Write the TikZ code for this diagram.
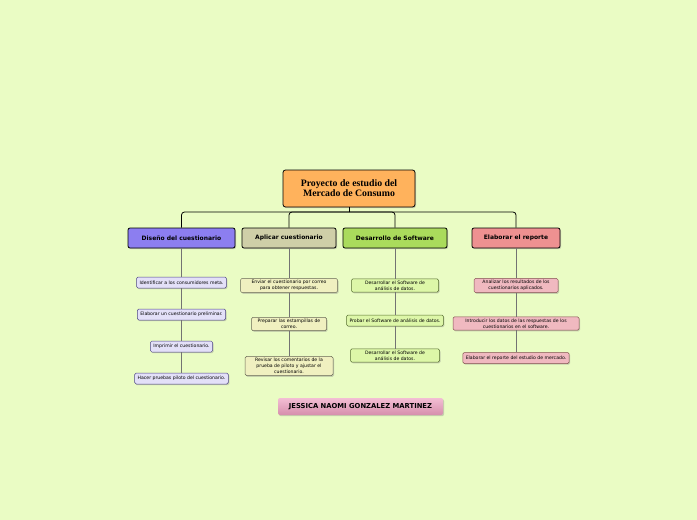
\documentclass[tikz,border=0pt]{standalone}
\usepackage{fontspec}
\setmainfont{DejaVu Sans}
\newfontfamily\titlefont{Liberation Serif}
\usetikzlibrary{shadows}
\definecolor{bgc}{RGB}{234,252,196}
\definecolor{rootc}{RGB}{255,178,92}
\definecolor{disc}{RGB}{140,126,240}
\definecolor{aplc}{RGB}{207,207,168}
\definecolor{desc}{RGB}{170,219,92}
\definecolor{elac}{RGB}{238,145,145}
\definecolor{disl}{RGB}{227,224,248}
\definecolor{apll}{RGB}{240,240,192}
\definecolor{desl}{RGB}{221,247,168}
\definecolor{elal}{RGB}{240,185,192}
\definecolor{namet}{RGB}{243,190,212}
\definecolor{nameb}{RGB}{214,142,172}
\begin{document}
\begin{tikzpicture}[x=1pt,y=-1pt,
  shd/.style={drop shadow={opacity=0.35,shadow xshift=1pt,shadow yshift=-1.2pt}},
  top/.style={shd,draw=black,line width=0.8pt,rounded corners=2.5pt,font=\titlefont\bfseries\fontsize{9.8}{10.2}\selectfont,
    align=center,minimum width=132pt,minimum height=37pt,inner sep=2pt},
  branch/.style={shd,draw=black,line width=0.8pt,rounded corners=2pt,font=\bfseries\fontsize{6}{7}\selectfont,
    minimum height=20pt,inner sep=2pt},
  leaf/.style={shd,draw=black!55,line width=0.5pt,rounded corners=1.5pt,font=\fontsize{4.6}{5.8}\selectfont,
    align=center,inner xsep=3pt,inner ysep=2pt,minimum height=11pt},
  dleaf/.style={leaf,fill=disl,draw=black!45!disc},
  aleaf/.style={leaf,fill=apll,draw=black!50!aplc},
  sleaf/.style={leaf,fill=desl,draw=black!50!desc},
  eleaf/.style={leaf,fill=elal,draw=black!45!elac},
  conn/.style={black,line width=0.8pt,rounded corners=3pt},
  sub/.style={black!55,line width=0.7pt}]

\useasboundingbox[fill=bgc] (0,0) rectangle (697,520);

% Main topic.
\node[top,fill=rootc] (root) at (349,188.5) {Proyecto de estudio del\\Mercado de Consumo};
\coordinate (bar) at (349,212);

% Branch row.
\node[branch,fill=disc,minimum width=107pt] (dis) at (181.5,238) {Diseño del cuestionario};
\node[branch,fill=aplc,minimum width=94pt] (apl) at (289,238) {Aplicar cuestionario};
\node[branch,fill=desc,minimum width=104pt] (des) at (395,238) {Desarrollo de Software};
\node[branch,fill=elac,minimum width=88pt] (ela) at (516,238) {Elaborar el reporte};

% Diseño column.
\node[dleaf] (d1) at (181.5,282.5) {Identificar a los consumidores meta.};
\node[dleaf] (d2) at (181.5,314.5) {Elaborar un cuestionario preliminar.};
\node[dleaf] (d3) at (181.5,346.5) {Imprimir el cuestionario.};
\node[dleaf] (d4) at (181.5,378.5) {Hacer pruebas piloto del cuestionario.};

% Aplicar column.
\node[aleaf,minimum width=97pt] (a1) at (289,285.5) {Enviar el cuestionario por correo\\para obtener respuestas.};
\node[aleaf,minimum width=75pt] (a2) at (289,324) {Preparar las estampillas de\\correo.};
\node[aleaf,minimum width=88pt] (a3) at (289,366) {Revisar los comentarios de la\\prueba de piloto y ajustar el\\cuestionario.};

% Software column.
\node[sleaf,minimum width=87pt] (s1) at (395,285.5) {Desarrollar el Software de\\análisis de datos.};
\node[sleaf] (s2) at (395,320.5) {Probar el Software de análisis de datos.};
\node[sleaf,minimum width=89pt] (s3) at (395,355.5) {Desarrollar el Software de\\análisis de datos.};

% Reporte column.
\node[eleaf,minimum width=84pt] (e1) at (516,285.5) {Analizar los resultados de los\\cuestionarios aplicados.};
\node[eleaf,minimum width=126pt] (e2) at (516,323.5) {Introducir los datos de las respuestas de los\\cuestionarios en el software.};
\node[eleaf] (e3) at (516,358) {Elaborar el reporte del estudio de mercado.};

% Author.
\node[shd,draw=none,rounded corners=2pt,top color=namet,bottom color=nameb,minimum width=165pt,minimum height=17pt,
  font=\bfseries\fontsize{6.8}{7}\selectfont] (name) at (360.5,406.5) {JESSICA NAOMI GONZALEZ MARTINEZ};

% Connectors.
\draw[conn] (root.south) -- (bar);
\draw[conn] (bar) -| (dis.north);
\draw[conn] (bar) -| (apl.north);
\draw[conn] (bar) -| (des.north);
\draw[conn] (bar) -| (ela.north);
\draw[sub] (dis.south) -- (d1.north) (d1.south) -- (d2.north) (d2.south) -- (d3.north) (d3.south) -- (d4.north);
\draw[sub] (apl.south) -- (a1.north) (a1.south) -- (a2.north) (a2.south) -- (a3.north);
\draw[sub] (des.south) -- (s1.north) (s1.south) -- (s2.north) (s2.south) -- (s3.north);
\draw[sub] (ela.south) -- (e1.north) (e1.south) -- (e2.north) (e2.south) -- (e3.north);
\end{tikzpicture}
\end{document}
